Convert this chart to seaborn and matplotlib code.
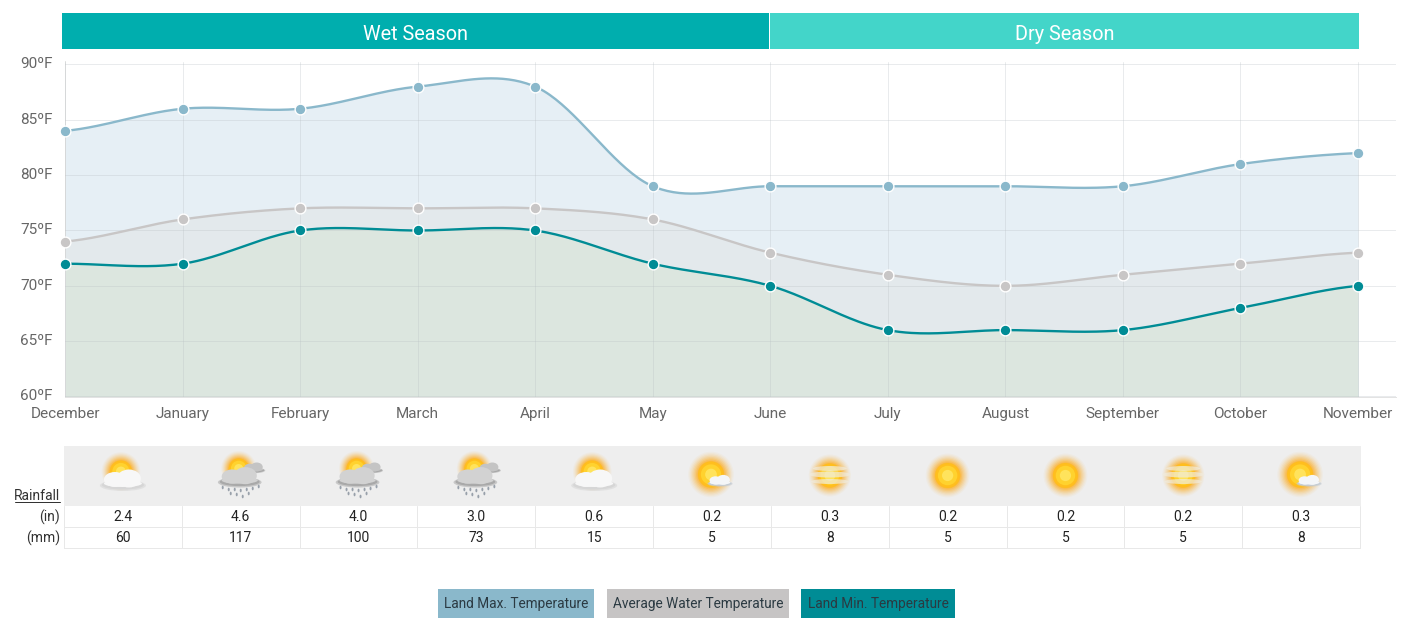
import numpy as np
import pandas as pd
import matplotlib
matplotlib.use("Agg")
import matplotlib.pyplot as plt
from matplotlib.patches import Rectangle, Circle, Ellipse
import seaborn as sns

months = ["December", "January", "February", "March", "April", "May", "June",
          "July", "August", "September", "October", "November"]
land_max = [84, 86, 86, 88, 88, 79, 79, 79, 79, 79, 81, 82]
water_avg = [74, 76, 77, 77, 77, 76, 73, 71, 70, 71, 72, 73]
land_min = [72, 72, 75, 75, 75, 72, 70, 66, 66, 66, 68, 70]
rain_in = ["2.4", "4.6", "4.0", "3.0", "0.6", "0.2", "0.3", "0.2", "0.2", "0.2", "0.3"]
rain_mm = ["60", "117", "100", "73", "15", "5", "8", "5", "5", "5", "8"]
weather = ["cloudy", "rain", "rain", "rain", "cloudy", "suncloud", "haze", "sun", "sun", "haze", "suncloud"]
y_ticks = [60, 65, 70, 75, 80, 85, 90]

C_MAX, C_AVG, C_MIN = "#8AB8CB", "#C8C6C6", "#008C95"
W, H = 1409, 630
PX = 0.72  # one pixel in points

sns.set_theme(style="white")
plt.rcParams["font.family"] = ["Roboto", "DejaVu Sans"]
fig = plt.figure(figsize=(W / 100, H / 100), dpi=100, facecolor="white")


def smooth(values, n=40):
    """Catmull-Rom curve through the data points, as the chart library draws it."""
    v = np.asarray(values, float)
    m = np.zeros(len(v))
    m[1:-1] = (v[2:] - v[:-2]) / 2
    m[0], m[-1] = (v[1] - v[0]) / 2, (v[-1] - v[-2]) / 2
    xs, ys = [], []
    for i in range(len(v) - 1):
        t = np.linspace(0, 1, n, endpoint=False)
        h00 = 2 * t**3 - 3 * t**2 + 1
        h10 = t**3 - 2 * t**2 + t
        h01 = -2 * t**3 + 3 * t**2
        h11 = t**3 - t**2
        xs.append(i + t)
        ys.append(h00 * v[i] + h10 * m[i] + h01 * v[i + 1] + h11 * m[i + 1])
    return np.r_[np.concatenate(xs), len(v) - 1], np.r_[np.concatenate(ys), v[-1]]


# ---------- main chart ----------
L, R, T, B = 65, 1396, 61.5, 396.5
ax = fig.add_axes([L / W, 1 - B / H, (R - L) / W, (B - T) / H])
step = (1358 - L)
ax.set_xlim(0, (R - L) / (step / 11))
ax.set_ylim(60, 60 + (B - T) / ((396.5 - 64.5) / 30))

series = [(land_max, C_MAX, "#E6EFF5"), (water_avg, C_AVG, "#E3E9EC"), (land_min, C_MIN, "#DCE6DF")]
for vals, col, fill in series:
    sx, sy = smooth(vals)
    ax.fill_between(sx, 60, sy, color=fill, lw=0, zorder=1)
for vals, col, fill in series:
    sx, sy = smooth(vals)
    sns.lineplot(x=sx, y=sy, sort=False, estimator=None, color=col, lw=1.7, ax=ax, zorder=3)
    pts = pd.DataFrame({"x": np.arange(len(vals)), "y": vals})
    sns.scatterplot(data=pts, x="x", y="y", color=col, s=60, edgecolor="white", linewidth=1.0,
                    ax=ax, zorder=4, clip_on=False)

ax.set_xlabel("")
ax.set_ylabel("")
ax.set_xticks(range(len(months)), months)
ax.set_yticks(y_ticks, [f"{v}ºF" for v in y_ticks])
ax.grid(True, color="#B8C0C4", alpha=0.3, lw=PX, zorder=2)
ax.set_axisbelow(False)
for s in ax.spines.values():
    s.set_visible(False)
for side in ("bottom", "left"):
    ax.spines[side].set_visible(True)
    ax.spines[side].set_color("#E3E3E3")
    ax.spines[side].set_linewidth(PX)
ax.tick_params(axis="both", colors="#E0E0E0", width=PX, labelcolor="#666666", labelsize=11)
ax.tick_params(axis="x", length=3, pad=4.4)
ax.tick_params(axis="y", length=4.3, pad=4.5)
for lab in ax.get_yticklabels():
    lab.set_verticalalignment("center")

# ---------- decorations, in pixel coordinates ----------
ov = fig.add_axes([0, 0, 1, 1], facecolor="none", zorder=-1)
ov.set_xlim(0, W)
ov.set_ylim(H, 0)
ov.axis("off")


def box(x0, x1, y0, y1, color, z=1):
    ov.add_patch(Rectangle((x0, y0), x1 - x0, y1 - y0, color=color, lw=0, zorder=z))


box(62, 769, 13, 49, "#00AEAE")
box(770, 1359, 13, 49, "#43D5C9")
ov.text(415.5, 35, "Wet Season", color="white", fontsize=14.3, ha="center", va="center")
ov.text(1064.5, 35, "Dry Season", color="white", fontsize=14.3, ha="center", va="center")

# rainfall table
TL, TR = 64, 1360
col_w = (TR - TL) / 11
box(TL, TR + 1, 446, 505.5, "#EEEEEE")
for y in (526.5, 547.5):
    ov.plot([TL, TR], [y, y], color="#E8E8E8", lw=PX, zorder=2)
for i in range(12):
    x = TL + i * col_w
    ov.plot([x, x], [505.5, 547.5], color="#E8E8E8", lw=PX, zorder=2)


def sun(cx, cy, r=12):
    for k, a in zip(np.linspace(1.75, 1.05, 8), [0.05, 0.07, 0.1, 0.13, 0.17, 0.22, 0.3, 0.4]):
        ov.add_patch(Circle((cx, cy), r * k, color="#FFAE1E", alpha=a, lw=0, zorder=3))
    ov.add_patch(Circle((cx, cy), r, color="#FFBE1E", lw=0, zorder=3))
    ov.add_patch(Circle((cx, cy), r * 0.78, color="#FFD22E", lw=0, zorder=3))
    ov.add_patch(Circle((cx, cy), r * 0.45, color="#FFE35C", lw=0, zorder=3))


def cloud(cx, cy, s=1.0, c1="#F7F7F7", c2="#D6D6D6"):
    parts = [(0, 4, 46, 11, c2, 0.55), (0, 3.5, 42, 9, c2, 1), (-8, -2, 22, 15, c1, 1),
             (6, -3, 24, 18, c1, 1), (0, 2, 38, 7, c1, 1)]
    for dx, dy, w, h, c, a in parts:
        ov.add_patch(Ellipse((cx + dx * s, cy + dy * s), w * s, h * s, color=c, alpha=a, lw=0, zorder=4))


def icon(kind, cx, cy):
    if kind == "sun":
        sun(cx, cy, 12.5)
    elif kind == "suncloud":
        sun(cx - 1, cy - 1, 13)
        cloud(cx + 8, cy + 6, 0.55, "#F4F6F8", "#C5CDD5")
    elif kind == "haze":
        sun(cx, cy, 12)
        for dy, hh, wd in [(-7, 5, 34), (-1, 6, 42), (6, 5, 38)]:
            ov.add_patch(Ellipse((cx, cy + dy), wd, hh, color="#F0ECDF", alpha=0.7, lw=0, zorder=4))
    elif kind == "cloudy":
        sun(cx - 2, cy - 4, 11)
        cloud(cx, cy + 6, 1.0)
    else:
        sun(cx - 2, cy - 7, 10)
        cloud(cx + 13, cy - 7, 0.5, "#C4C4C4", "#A8A8A8")
        cloud(cx - 1, cy + 3, 0.95, "#D2D2D2", "#A9A9A9")
        for dx, dy in [(-18, 12), (-12, 14), (-6, 14), (0, 15), (6, 14), (12, 13), (18, 11),
                       (-10, 18), (-4, 19), (2, 21), (8, 18)]:
            ov.add_patch(Ellipse((cx + dx, cy + dy), 2, 3.6, color="#98A0AA", lw=0, zorder=4))


for i in range(11):
    cx = TL + (i + 0.5) * col_w
    icon(weather[i], cx, 475.5)
    ov.text(cx, 517, rain_in[i], color="#222222", fontsize=10, ha="center", va="center")
    ov.text(cx, 538, rain_mm[i], color="#222222", fontsize=10, ha="center", va="center")

ov.text(60, 496, "Rainfall", color="#333333", fontsize=10, ha="right", va="center")
ov.plot([15, 60], [501.5, 501.5], color="#333333", lw=PX)
ov.text(60, 517, "(in)", color="#333333", fontsize=10, ha="right", va="center")
ov.text(60, 538, "(mm)", color="#333333", fontsize=10, ha="right", va="center")

# legend
legend_items = [("Land Max. Temperature", C_MAX, 438, 594),
                ("Average Water Temperature", "#C6C4C4", 607, 789),
                ("Land Min. Temperature", C_MIN, 801, 955)]
for name, col, x0, x1 in legend_items:
    box(x0, x1, 589, 618, col)
    ov.text((x0 + x1) / 2, 604, name, color="#2B3A42", fontsize=9.8, ha="center", va="center")

fig.savefig("out.png", dpi=100)
